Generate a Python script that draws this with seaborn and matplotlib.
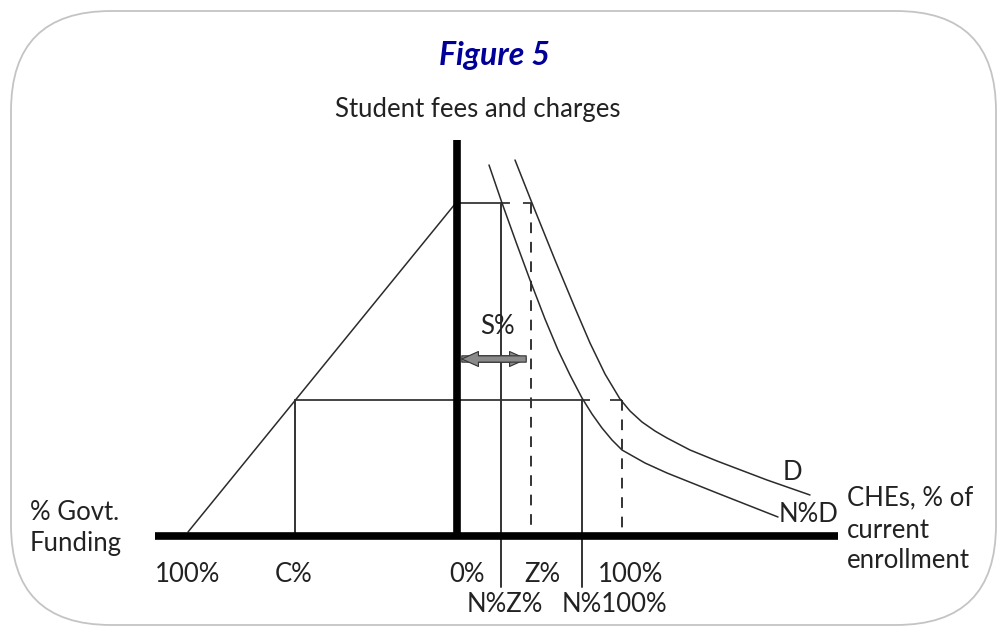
import matplotlib
matplotlib.use("Agg")
import matplotlib.pyplot as plt
from matplotlib.patches import FancyBboxPatch, FancyArrowPatch
import seaborn as sns
import pandas as pd

# ---------------- data (diagram coordinates, pixel-like units) ----------------
# demand curve D
d_x = [515, 532, 555, 575, 590, 605, 620, 630, 642, 655, 667, 690, 717, 767, 810]
d_y = [160, 203, 260, 308, 343, 374, 399, 411, 422, 431, 438, 450, 461, 480, 495]
# shifted demand curve N%D
nd_x = [489, 502, 516, 530, 545, 558, 570, 582, 592, 602, 612, 622, 645, 667, 717, 778]
nd_y = [165, 203, 242, 280, 319, 350, 375, 398, 414, 428, 440, 450, 463, 473, 493, 517]
# government funding line
gov_x = [188, 455]
gov_y = [532, 204]

# key positions
axis_y = 536            # horizontal axis level
axis_x = 457            # vertical axis position
high_fee = 203          # upper fee level
low_fee = 400           # lower fee level
x_c = 295               # C%
x_nz = 501              # N%Z%
x_z = 531               # Z%
x_n100 = 582            # N%100%
x_100 = 622             # 100%

row1_labels = ["100%", "C%", "0%", "Z%", "100%"]
row1_x = [188, 294, 467, 542, 631]
row2_labels = ["N%Z%", "N%100%"]
row2_x = [505, 614]

# ---------------- style ----------------
sns.set_theme(style="white")
plt.rcParams["font.family"] = ["Lato", "DejaVu Sans"]

fig = plt.figure(figsize=(10.02, 6.28), dpi=100)
ax = fig.add_axes([0, 0, 1, 1])

# rounded frame
frame = FancyBboxPatch((11, 11), 985, 614,
                       boxstyle="round,pad=0,rounding_size=100",
                       fc="white", ec="#c4c4c4", lw=1.3, zorder=0)
ax.add_patch(frame)

line_col = "#2b2b2b"
thin = 1.1

# curves through seaborn
df_d = pd.DataFrame({"x": d_x, "y": d_y})
df_nd = pd.DataFrame({"x": nd_x, "y": nd_y})
df_gov = pd.DataFrame({"x": gov_x, "y": gov_y})
sns.lineplot(data=df_d, x="x", y="y", sort=False, ax=ax, color=line_col, lw=thin, zorder=3)
sns.lineplot(data=df_nd, x="x", y="y", sort=False, ax=ax, color=line_col, lw=thin, zorder=3)
sns.lineplot(data=df_gov, x="x", y="y", sort=False, ax=ax, color=line_col, lw=thin, zorder=3)
ax.set_xlim(0, 1002)
ax.set_ylim(628, 0)
ax.axis("off")

# thick axes
ax.plot([155, 838], [axis_y, axis_y], color="black", lw=5.5, solid_capstyle="butt", zorder=4)
ax.plot([axis_x, axis_x], [140, axis_y], color="black", lw=5.5, solid_capstyle="butt", zorder=4)

ref_col = "#444444"
lw_ref = 1.4
# upper fee level
ax.plot([axis_x, x_nz], [high_fee, high_fee], color=ref_col, lw=lw_ref, zorder=2)
ax.plot([x_nz, x_z + 2], [high_fee, high_fee], color=ref_col, lw=lw_ref,
        dashes=(4.6, 6.7), zorder=2)
# lower fee level
ax.plot([x_c, x_n100], [low_fee, low_fee], color=ref_col, lw=lw_ref, zorder=2)
ax.plot([x_n100, x_100], [low_fee, low_fee], color=ref_col, lw=lw_ref,
        dashes=(4.1, 10.3, 6.2, 5), zorder=2)

# verticals
ax.plot([x_nz, x_nz], [high_fee, 587], color="#333333", lw=lw_ref, zorder=2)
ax.plot([x_n100, x_n100], [low_fee, 587], color="#333333", lw=lw_ref, zorder=2)
ax.plot([x_c, x_c], [low_fee, axis_y], color="#333333", lw=lw_ref, zorder=2)
ax.plot([x_z, x_z], [high_fee, axis_y], color="#333333", lw=lw_ref, dashes=(5.5, 4.5), zorder=2)
ax.plot([x_100, x_100], [low_fee, axis_y], color="#333333", lw=lw_ref, dashes=(5.5, 4.5), zorder=2)

# S% double arrow
for a, b in [((axis_x + 2, 359), (x_z - 2, 359)), ((x_z - 2, 359), (axis_x + 2, 359))]:
    arr = FancyArrowPatch(a, b,
                          arrowstyle="simple,head_length=1.0,head_width=0.9,tail_width=0.38",
                          mutation_scale=12, fc="#8a8a8a", ec="#333333", lw=0.8, zorder=5)
    ax.add_patch(arr)

txt_col = "#222222"
fs = 18.5
fw = "normal"

# titles
ax.text(494, 55, "Figure 5", ha="center", va="center", fontsize=23,
        fontweight="bold", fontstyle="italic", color="#000099")
ax.text(478, 109, "Student fees and charges", ha="center", va="center",
        fontsize=fs, fontweight=fw, color=txt_col)

# labels
ax.text(497, 327, "S%", ha="center", va="center", fontsize=fs, fontweight=fw, color=txt_col)
ax.text(792, 472, "D", ha="center", va="center", fontsize=fs, fontweight=fw, color=txt_col)
ax.text(779, 514, "N%D", ha="left", va="center", fontsize=fs, fontweight=fw, color=txt_col)

ax.text(847, 498, "CHEs, % of", ha="left", va="center", fontsize=fs, fontweight=fw, color=txt_col)
ax.text(847, 530, "current", ha="left", va="center", fontsize=fs, fontweight=fw, color=txt_col)
ax.text(847, 561, "enrollment", ha="left", va="center", fontsize=fs, fontweight=fw, color=txt_col)

ax.text(30, 512, "% Govt.", ha="left", va="center", fontsize=fs, fontweight=fw, color=txt_col)
ax.text(30, 543, "Funding", ha="left", va="center", fontsize=fs, fontweight=fw, color=txt_col)

for lab, xx in zip(row1_labels, row1_x):
    ax.text(xx, 575, lab, ha="center", va="center", fontsize=fs, fontweight=fw, color=txt_col)
for lab, xx in zip(row2_labels, row2_x):
    ax.text(xx, 604, lab, ha="center", va="center", fontsize=fs, fontweight=fw, color=txt_col)

fig.savefig("out.png", dpi=100)
